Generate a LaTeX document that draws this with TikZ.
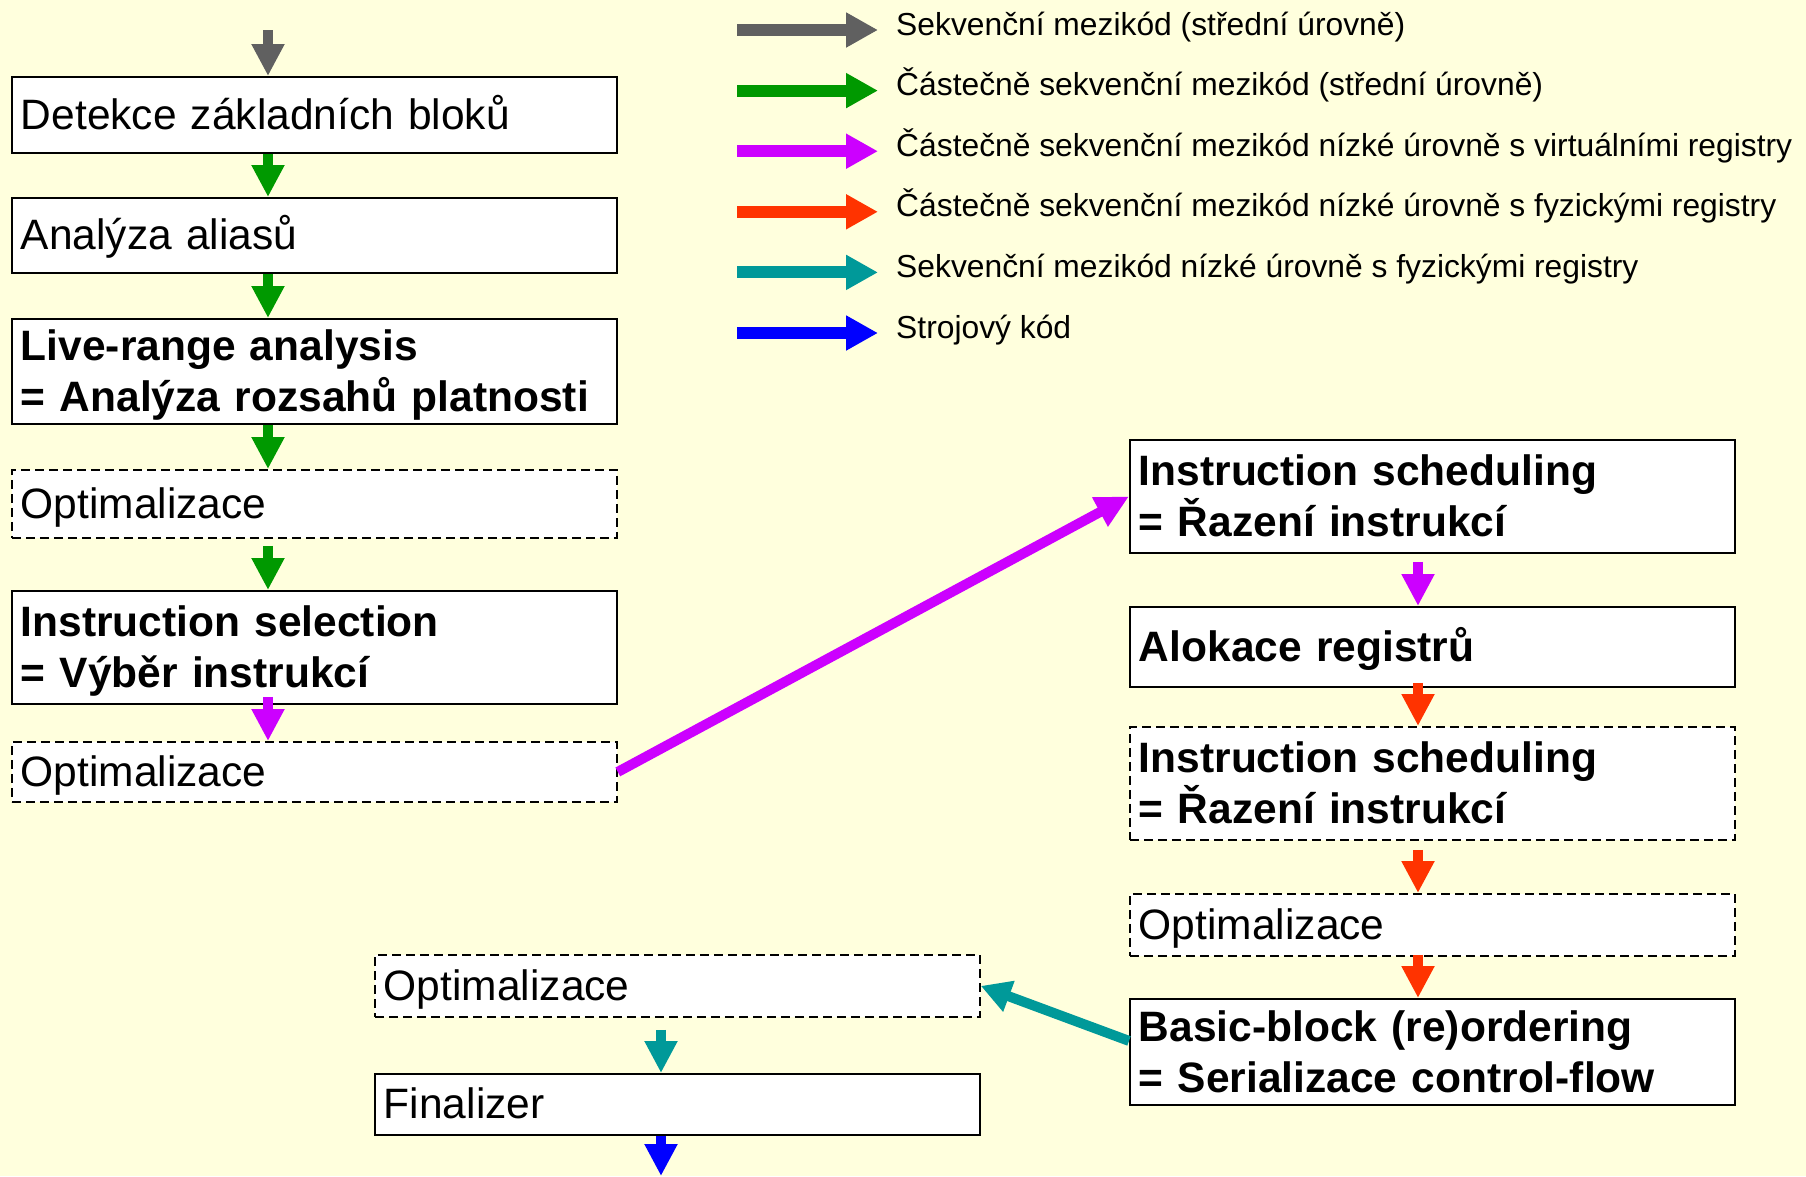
\documentclass[tikz,border=0pt]{standalone}
\usepackage{fontspec}
\setmainfont{Liberation Sans}
\usetikzlibrary{arrows.meta,calc}
\definecolor{bgc}{RGB}{255,255,221}
\definecolor{cgray}{RGB}{96,96,96}
\definecolor{cgreen}{RGB}{0,153,0}
\definecolor{cmag}{RGB}{204,0,255}
\definecolor{cred}{RGB}{255,51,0}
\definecolor{cteal}{RGB}{0,153,153}
\definecolor{cblue}{RGB}{0,0,255}
\newcommand\boxfont{\fontsize{42.5}{51}\selectfont}
\newcommand\legfont{\fontsize{31.8}{38}\selectfont}
\begin{document}
\begin{tikzpicture}[x=1pt,y=-1pt,
  flowbox/.style={draw=black, line width=1.8pt, fill=white, anchor=north west,
    minimum width=605pt, text width=587pt, inner xsep=9pt, inner ysep=0pt,
    align=left, font=\boxfont, text depth=0pt, text height=29pt},
  twoline/.style={text height=30pt, text depth=51pt, font=\boxfont\bfseries},
  dashbox/.style={flowbox, dash pattern=on 9pt off 5pt},
  flowarr/.style={line width=10pt, -{Triangle[length=32pt,width=31pt]}},
  legarr/.style={line width=12pt, -{Triangle[length=32pt,width=33pt]}},
  legtext/.style={anchor=base west, inner sep=0pt, font=\legfont}
]
\useasboundingbox (0,0) rectangle (1806,1176);
\fill[bgc] (0,0) rectangle (1806,1176);

% column x positions
\coordinate (xl) at (268,0);
\coordinate (xr) at (1418,0);
\coordinate (xb) at (661,0);

% left column
\node[flowbox, minimum height=76pt] (b1) at (11,76) {Detekce základních bloků};
\node[flowbox, minimum height=75pt] (b2) at (11,197) {Analýza aliasů};
\node[flowbox, twoline, minimum height=105pt] (b3) at (11,318) {Live-range analysis\\= Analýza rozsahů platnosti};
\node[dashbox, minimum height=68pt] (o1) at (11,469) {Optimalizace};
\node[flowbox, twoline, minimum height=113pt] (b5) at (11,590) {Instruction selection\\= Výběr instrukcí};
\node[dashbox, minimum height=60pt] (o2) at (11,741) {Optimalizace};

% right column
\node[flowbox, twoline, minimum height=113pt] (r1) at (1129,439) {Instruction scheduling\\= Řazení instrukcí};
\node[flowbox, minimum height=80pt, font=\boxfont\bfseries] (r2) at (1129,606) {Alokace registrů};
\node[dashbox, twoline, minimum height=113pt] (r3) at (1129,726) {Instruction scheduling\\= Řazení instrukcí};
\node[dashbox, minimum height=62pt] (r4) at (1129,893) {Optimalizace};
\node[flowbox, twoline, minimum height=106pt] (r5) at (1129,998) {Basic-block (re)ordering\\= Serializace control-flow};

% bottom column
\node[dashbox, minimum height=62pt] (o3) at (374,954) {Optimalizace};
\node[flowbox, minimum height=61pt] (fin) at (374,1073) {Finalizer};

% entry / exit
\coordinate (start) at (268,30);
\coordinate (exit) at (661,1176);

% left column arrows
\draw[flowarr, cgray] (start) -- (b1.north -| xl);
\draw[flowarr, cgreen] (b1.south -| xl) -- (b2.north -| xl);
\draw[flowarr, cgreen] (b2.south -| xl) -- (b3.north -| xl);
\draw[flowarr, cgreen] (b3.south -| xl) -- (o1.north -| xl);
\draw[flowarr, cgreen, shorten <=7pt] (o1.south -| xl) -- (b5.north -| xl);
\draw[flowarr, cmag, shorten <=-8pt] (b5.south -| xl) -- (o2.north -| xl);

% cross arrows
\draw[line width=10pt, cmag, -{Triangle[length=33pt,width=31pt]}] (o2.east) -- (r1.west);
\draw[line width=10pt, cteal, -{Triangle[length=30pt,width=31pt]}] ([yshift=11pt]r5.west) -- (o3.east);

% right column arrows
\draw[flowarr, cmag, shorten <=8pt] (r1.south -| xr) -- (r2.north -| xr);
\draw[flowarr, cred, shorten <=-5pt] (r2.south -| xr) -- (r3.north -| xr);
\draw[flowarr, cred, shorten <=9pt] (r3.south -| xr) -- (r4.north -| xr);
\draw[flowarr, cred, shorten <=-2pt] (r4.south -| xr) -- (r5.north -| xr);

% bottom arrows
\draw[flowarr, cteal, shorten <=12pt] (o3.south -| xb) -- (fin.north -| xb);
\draw[flowarr, cblue] (fin.south -| xb) -- (exit);

% legend
\foreach \i/\c/\t in {1/cgray/{Sekvenční mezikód (střední úrovně)},
  2/cgreen/{Částečně sekvenční mezikód (střední úrovně)},
  3/cmag/{Částečně sekvenční mezikód nízké úrovně s virtuálními registry},
  4/cred/{Částečně sekvenční mezikód nízké úrovně s fyzickými registry},
  5/cteal/{Sekvenční mezikód nízké úrovně s fyzickými registry},
  6/cblue/{Strojový kód}}{
  \pgfmathsetmacro\yy{30+(\i-1)*60.6}
  \coordinate (la\i) at (737,\yy);
  \coordinate (lb\i) at (878,\yy);
  \draw[legarr, \c] (la\i) -- (lb\i);
  \node[legtext] (lt\i) at (896,\yy+5) {\t};
}
\end{tikzpicture}
\end{document}
